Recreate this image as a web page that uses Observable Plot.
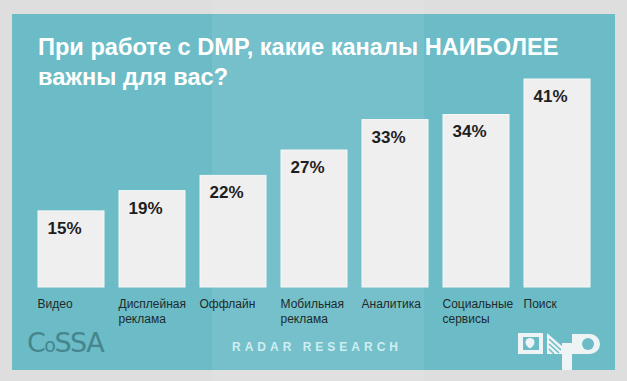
<!DOCTYPE html>
<html>
<head>
<meta charset="utf-8">
<script src="https://cdn.jsdelivr.net/npm/d3@7"></script>
<script src="https://cdn.jsdelivr.net/npm/@observablehq/plot@0.6"></script>
<style>
  html, body { margin: 0; padding: 0; }
  #wrap { position: relative; width: 627px; height: 381px; background: #dedede; overflow: hidden; font-family: "Liberation Sans", Arial, sans-serif; }
  #panel { position: absolute; left: 12px; top: 14px; width: 603px; height: 356px; background: #6bbcc6; }
  #fold { position: absolute; left: 212px; top: 0; width: 212px; height: 381px; background: rgba(255,255,255,0.07); }
  #title { position: absolute; left: 38px; top: 32px; margin: 0; font-size: 23.6px; font-weight: bold; color: #ffffff; line-height: 30px; letter-spacing: 0; }
  #chart { position: absolute; left: 0; top: 0; }
  #cossa { position: absolute; left: 27px; top: 327px; font-size: 27px; color: #47858e; font-family: "DejaVu Sans", sans-serif; font-weight: normal; letter-spacing: -1.5px; }
  #radar { position: absolute; left: 232px; top: 340px; font-size: 12px; font-weight: bold; color: #cfeef2; letter-spacing: 4px; }
  #dmp { position: absolute; left: 510px; top: 325px; }
</style>
</head>
<body>
<div id="wrap">
  <div id="panel"></div>
  <div id="fold"></div>
  <h2 id="title">При работе с DMP, какие каналы НАИБОЛЕЕ<br>важны для вас?</h2>
  <div id="chart"></div>
  <div id="cossa">C<span style="font-size:19px">o</span>SSA</div>
  <div id="radar">RADAR RESEARCH</div>
  <svg id="dmp" width="95" height="45" viewBox="0 0 95 45">
    <rect x="8" y="8" width="25" height="21" fill="#eef4f5"/>
    <rect x="13" y="12" width="16" height="13" fill="#6bbcc6"/>
    <path d="M20 13 a4.5 4.5 0 0 1 4.5 4.5 c0 3 -4.5 6 -4.5 6 c0 0 -4.5 -3 -4.5 -6 a4.5 4.5 0 0 1 4.5 -4.5z" fill="#eef4f5"/>
    <path d="M37 8 L53 22 L53 29 L37 29 Z" fill="#eef4f5"/>
    <path d="M39 14 L51 25 M39 19 L49 28 M39 24 L44 29" stroke="#6bbcc6" stroke-width="1.5"/>
    <rect x="52" y="18" width="10" height="27" fill="#eef4f5"/>
    <path d="M62 9 H80 A10 10 0 0 1 80 29 H62 Z" fill="#eef4f5"/>
    <circle cx="78" cy="19" r="6" fill="#6bbcc6"/>
  </svg>
</div>
<script>
const categories = ["Видео", "Дисплейная\nреклама", "Оффлайн", "Мобильная\nреклама", "Аналитика", "Социальные\nсервисы", "Поиск"];
const values = [15, 19, 22, 27, 33, 34, 41];
const valueLabels = ["15%", "19%", "22%", "27%", "33%", "34%", "41%"];

const data = categories.map((c, i) => ({cat: c, value: values[i], label: valueLabels[i]}));

const chart = Plot.plot({
  width: 627,
  height: 381,
  margin: 0,
  style: {background: "transparent", fontFamily: "'Liberation Sans', Arial, sans-serif", overflow: "visible"},
  x: {domain: categories, range: [28.3, 598.8], padding: 0.19, paddingOuter: 0.095, axis: null},
  y: {domain: [0, 41], range: [287, 79], axis: null},
  marks: [
    Plot.barY(data, {x: "cat", y: "value", fill: "#efefef", stroke: "#f7f7f7", strokeWidth: 1}),
    Plot.text(data, {x: "cat", y: "value", text: "label", textAnchor: "start", dx: -24, dy: 17, fontSize: 17, fontWeight: "bold", fill: "#1e1e1e"}),
    Plot.text(data, {x: "cat", y: () => 0, text: "cat", textAnchor: "start", lineAnchor: "top", dx: -34, dy: 10, fontSize: 12, lineHeight: 1.25, fill: "#1e2a2c"})
  ]
});
document.getElementById("chart").appendChild(chart);
</script>
</body>
</html>
